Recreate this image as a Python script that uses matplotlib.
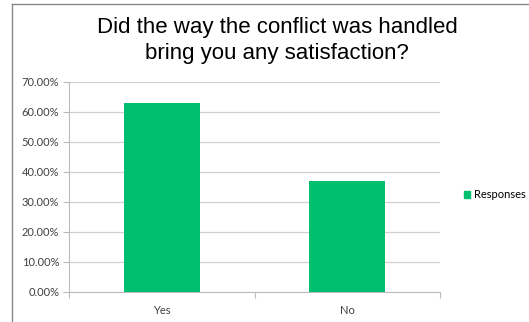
import matplotlib.pyplot as plt
from matplotlib.lines import Line2D
from matplotlib.patches import Patch
from matplotlib.ticker import FuncFormatter

categories = ["Yes", "No"]
responses = [0.629, 0.371]
y_ticks = [0.0, 0.1, 0.2, 0.3, 0.4, 0.5, 0.6, 0.7]

W, H = 529, 322
fig = plt.figure(figsize=(W / 100, H / 100), dpi=100)

# figure frame (left + top only visible)
fig.add_artist(Line2D([12 / W, 12 / W], [0, 1 - 4 / H], color="#888888", lw=1.0))
fig.add_artist(Line2D([12 / W, 1], [1 - 4 / H, 1 - 4 / H], color="#888888", lw=1.0))

ax = fig.add_axes([69 / W, 1 - 292 / H, (440 - 69) / W, (292 - 82) / H])

green = "#00BF6F"
x = range(len(categories))
ax.bar(x, responses, width=0.41, color=green, zorder=3)

ax.set_xlim(-0.5, 1.5)
ax.set_ylim(0, 0.7)
ax.set_yticks(y_ticks)
ax.yaxis.set_major_formatter(FuncFormatter(lambda v, p: f"{v * 100:.2f}%"))
ax.grid(axis="y", color="#d0d0d0", lw=0.9, zorder=0)

ax.set_xticks([-0.5, 0.5, 1.5])
ax.set_xticklabels([])
ax.set_xticks(list(x), minor=True)
ax.set_xticklabels(categories, minor=True)
ax.tick_params(axis="x", which="minor", length=0, pad=9)
ax.tick_params(axis="x", which="major", length=4, color="#bbbbbb")
ax.tick_params(axis="y", length=4, color="#bbbbbb", pad=3)

for lbl in ax.get_yticklabels() + ax.get_xticklabels(minor=True):
    lbl.set_fontsize(8)
    lbl.set_color("#404040")
    lbl.set_family("Lato")

for side in ["top", "right"]:
    ax.spines[side].set_visible(False)
ax.spines["left"].set_color("#bbbbbb")
ax.spines["bottom"].set_color("#bbbbbb")

fig.text(277 / W, 1 - 28 / H, "Did the way the conflict was handled",
         ha="center", va="center", fontsize=16, family="Liberation Sans")
fig.text(277 / W, 1 - 54 / H, "bring you any satisfaction?",
         ha="center", va="center", fontsize=16, family="Liberation Sans")

fig.legend(handles=[Patch(color=green, label="Responses")],
           loc="center left", bbox_to_anchor=(456 / W, 1 - 195 / H),
           frameon=False, handlelength=0.6, handleheight=0.6, handletextpad=0.3,
           borderpad=0.2, prop={"family": "Lato", "size": 8})

fig.savefig("out.png", dpi=100)
